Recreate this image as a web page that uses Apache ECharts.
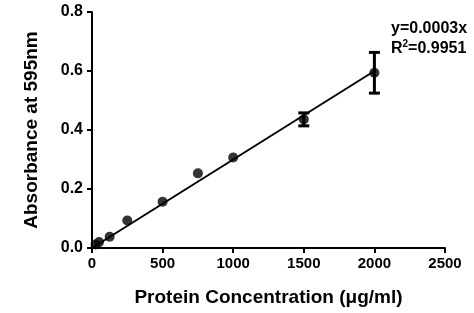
<!DOCTYPE html>
<html><head><meta charset="utf-8">
<script src="https://cdn.jsdelivr.net/npm/echarts@6/dist/echarts.min.js"></script>
<style>html,body{margin:0;padding:0;background:#fff}#c{width:474px;height:313px}</style>
</head><body><div id="c"></div>
<script>
var concentrations = [25, 50, 125, 250, 500, 750, 1000, 1500, 2000];
var absorbance = [0.012, 0.02, 0.038, 0.093, 0.157, 0.253, 0.307, 0.436, 0.594];
var errors = [0, 0, 0, 0, 0, 0, 0, 0.022, 0.069];
var fitSlope = 0.0003;
var fitRange = [0, 2000];
var xTicks = [0, 500, 1000, 1500, 2000, 2500];
var yTicks = [0.0, 0.2, 0.4, 0.6, 0.8];

var points = concentrations.map(function(x, i){ return [x, absorbance[i]]; });
var fitLine = fitRange.map(function(x){ return [x, x * fitSlope]; });
var errData = concentrations.map(function(x, i){ return [x, absorbance[i] - errors[i], absorbance[i] + errors[i]]; }).filter(function(d){ return d[2] > d[1]; });

var chart = echarts.init(document.getElementById('c'));
var font = 'Liberation Sans, Arial, sans-serif';
chart.setOption({
  animation: false,
  backgroundColor: '#fff',
  grid: {left: 92, right: 29, top: 12, bottom: 65},
  xAxis: {
    type: 'value', min: 0, max: 2500, interval: 500,
    name: 'Protein Concentration (\u03bcg/ml)', nameLocation: 'middle', nameGap: 40,
    nameTextStyle: {color: '#000', fontSize: 19, fontWeight: 'bold', fontFamily: font},
    axisLine: {lineStyle: {color: '#000', width: 2}},
    axisTick: {show: true, length: 5, lineStyle: {color: '#000', width: 2}},
    axisLabel: {color: '#000', fontSize: 15, fontWeight: 'bold', fontFamily: font, margin: 8,
      formatter: function(v){ return String(v); }},
    splitLine: {show: false}
  },
  yAxis: {
    type: 'value', min: 0, max: 0.8, interval: 0.2,
    name: 'Absorbance at 595nm', nameLocation: 'middle', nameGap: 51,
    nameTextStyle: {color: '#000', fontSize: 19, fontWeight: 'bold', fontFamily: font},
    axisLine: {show: true, lineStyle: {color: '#000', width: 2}},
    axisTick: {show: true, length: 5, lineStyle: {color: '#000', width: 2}},
    axisLabel: {color: '#000', fontSize: 16, fontWeight: 'bold', fontFamily: font, margin: 9,
      formatter: function(v){ return v.toFixed(1); }},
    splitLine: {show: false}
  },
  graphic: [{
    type: 'text', left: 391, top: 21,
    style: {
      text: '{a|y=0.0003x}\n{a|R}{s|2}{a|=0.9951}',
      rich: {
        a: {fontSize: 16, fontWeight: 'bold', fontFamily: font, fill: '#000', lineHeight: 20},
        s: {fontSize: 10, fontWeight: 'bold', fontFamily: font, fill: '#000', verticalAlign: 'top', lineHeight: 14, padding: [0, 0, 6, 0]}
      }
    }
  }],
  series: [{
    type: 'line', data: fitLine, symbol: 'none',
    lineStyle: {color: '#000', width: 2}, z: 2
  }, {
    type: 'custom', data: errData, z: 3,
    renderItem: function(params, api){
      var x = api.value(0);
      var lo = api.coord([x, api.value(1)]);
      var hi = api.coord([x, api.value(2)]);
      var hw = 5.5;
      var st = {stroke: '#000', lineWidth: 3};
      return {type: 'group', children: [
        {type: 'line', shape: {x1: lo[0], y1: lo[1], x2: hi[0], y2: hi[1]}, style: st},
        {type: 'line', shape: {x1: lo[0]-hw, y1: lo[1], x2: lo[0]+hw, y2: lo[1]}, style: st},
        {type: 'line', shape: {x1: hi[0]-hw, y1: hi[1], x2: hi[0]+hw, y2: hi[1]}, style: st}
      ]};
    }
  }, {
    type: 'scatter', data: points, symbol: 'circle', symbolSize: 10,
    itemStyle: {color: '#000'}, z: 4
  }]
});
</script></body></html>
